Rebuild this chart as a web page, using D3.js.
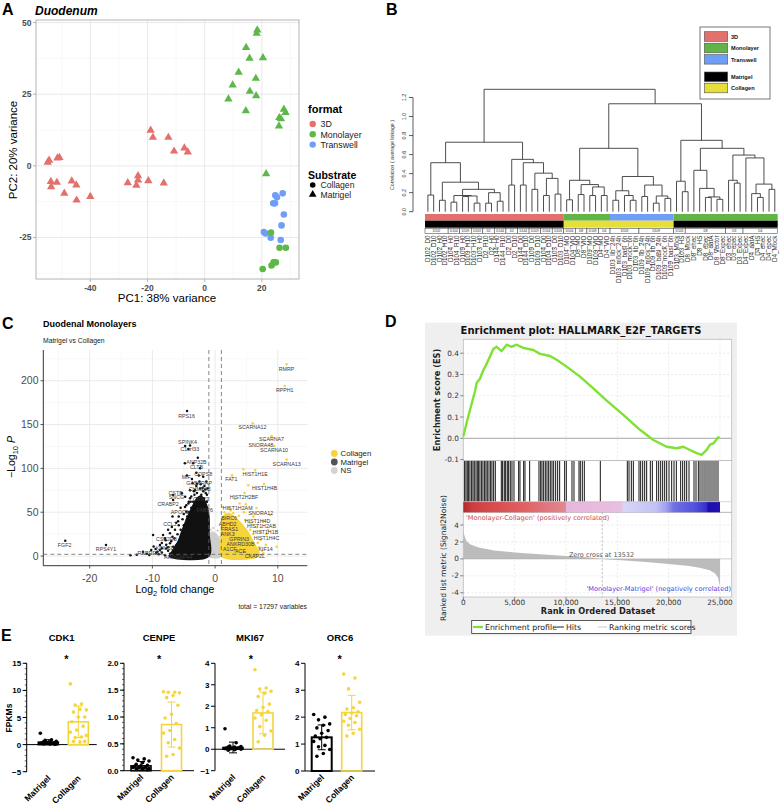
<!DOCTYPE html>
<html><head><meta charset="utf-8">
<script src="https://cdn.jsdelivr.net/npm/d3@7/dist/d3.min.js"></script>
<style>html,body{margin:0;padding:0;background:#fff}svg{display:block}</style>
</head><body>
<svg id="fig" width="781" height="805" xmlns="http://www.w3.org/2000/svg"></svg>
<script>
// ================= DATA =================
// ---- Panel A: PCA (PC1, PC2)
const pca3DMatrigel = [[-54.9,1.2],[-54.4,1.9],[-51.5,2.7],[-50.8,2.9],[-53.8,-5.5],[-53.7,-7.3],[-51.7,-5.8],[-49.1,-9.6],[-46.5,-5.3],[-44.9,-6.7],[-44.8,-12],[-40,-10.7],
  [-26.9,-5.9],[-23.9,-6.8],[-23.3,-5],[-23.3,-3.5],[-19.7,-5.2],[-14.3,-6],[-18.9,12.4],[-18.1,9.9],[-12.7,9.9],[-10.7,5.1],[-7.1,6.2],[-5.9,4.8]];
const pcaMonoMatrigel = [[18.4,47.4],[18.2,46.2],[14.5,41.3],[15.7,37.5],[20.4,37.7],[11.9,32.6],[17.9,30.5],[9.8,28.2],[15.8,26],[18,24.4],[8.3,23.3],[14.4,19.2],[27.7,19.7],[28.3,18.6],[26.1,16.8],[26.7,16.4],[26,13.9],[21.5,-2.8]];
const pcaTranswellCollagen = [[24.7,-10.3],[25.3,-11],[27.3,-9.6],[24,-13.1],[24.6,-13.1],[27.7,-17],[26.9,-20.8],[20.7,-23.1],[21.3,-23.6],[23.1,-25.1],[26.6,-25.9]];
const pcaMonoCollagen = [[23.2,-23.3],[26.2,-28.6],[28.4,-28.6],[24.1,-33.7],[24.9,-33.7],[23.4,-34.8],[20.3,-36]];
const pcaFormats = ["3D","Monolayer","Transwell"];
const pcaSubstrates = ["Collagen","Matrigel"];
const pcaXTicks = [-40,-20,0,20];
const pcaYTicks = [-25,0,25,50];
const pcaXMinor = [-50,-30,-10,10,30];
const pcaYMinor = [-37.5,-12.5,12.5,37.5];

// ---- Panel B: dendrogram (node = [height, left, right], leaf = index)
const dendroLeaves = ["D102_D0","D102_D10","D102_H0","D102_H10","D104_H0","D104_H10","D109_H0","D109_H10","D103_H10","D103_H0","D2_H10","D2_H0","D144_H0","D144_H10","D2_D0","D2_D10","D144_D0","D144_D10","D109_D0","D109_D10","D104_D0","D104_D10","D103_D0","D103_D10",
 "D104_MO","D104_VIO","D8_MO","D8_VIO","D109_MO","D109_VIO","D4_MO","D4_VIO",
 "D103_lib_24h","D103_mock_24h","D103_basl_6h","D103_mock_6h","D103_lib_6h","D109_lib_24h","D109_mock_24h","D109_lib_6h","D109_basl_24h","D109_mock_6h","D109_basl_6h",
 "D103_Mock","D103_HS","D8_Mock","D8_ehec","D8_HS","D8_epec","D8_aatA","D8_Vector","D8_Expec","D3_ehec","D3_epec","D3_Expec","D4_Expec","D4_aatA","D4_HS","D4_ehec","D4_epec","D4_Mock"];
const dendro3D = [0.73,
  [0.515,[0.175,0,1],[0.31,[0.12,2,3],[0.235,[0.17,[0.10,4,5],[0.165,[0.16,6,7],[0.09,8,9]]],[0.2,[0.09,10,11],[0.11,12,13]]]]],
  [0.55,[0.28,14,15],[0.515,[0.28,16,17],[0.405,[0.235,18,19],[0.35,[0.17,20,21],[0.185,22,23]]]]]];
const dendroMonoColl = [0.666,
  [0.33,[0.125,24,25],[0.285,[0.18,26,27],[0.26,[0.17,28,29],[0.17,30,31]]]],
  [0.37,[0.22,[0.12,32,33],[0.17,34,[0.12,35,36]]],[0.28,[0.16,37,38],[0.165,[0.09,39,40],[0.14,41,42]]]]];
const dendroMonoMat = [0.75,
  [0.32,43,[0.21,44,45]],
  [0.666,[0.435,46,[0.245,47,[0.155,[0.15,48,49],[0.13,50,51]]]],
         [0.595,[0.33,52,[0.30,53,54]],[0.565,55,[0.29,[0.19,56,[0.15,57,58]],[0.235,59,60]]]]]];
const dendroTree = [1.286, dendro3D, [1.134, dendroMonoColl, dendroMonoMat]];
const dendroFormatRuns = [["3D",0,23],["Monolayer",24,31],["Transwell",32,42],["Monolayer",43,60]];
const dendroSubstrateRuns = [["Matrigel",0,23],["Collagen",24,42],["Matrigel",43,60]];
const dendroDonorRuns = [["D102",0,3],["D104",4,5],["D109",6,7],["D103",8,9],["D2",10,11],["D144",12,13],["D2",14,15],["D144",16,17],["D109",18,19],["D104",20,21],["D103",22,23],
 ["D104",24,25],["D8",26,27],["D109",28,29],["D4",30,31],["D103",32,36],["D109",37,42],["D103",43,44],["D8",45,51],["D3",52,54],["D4",55,60]];
const dendroYTicks = [0,0.2,0.4,0.6,0.8,1.0,1.2];
const dendroLegend = ["3D","Monolayer","Transwell","Matrigel","Collagen"];

// ---- Panel C: volcano (log2FC, -log10 P)
const volcMatrigelPts = [[-4.47,165.5],[-4.78,125.6],[-4.0,126],[-4.26,122],[-4.83,105.7],[-2.76,112],[-3.5,105.8],[-2.4,100],[-1.9,90.5],[-4.5,92],[-3.7,88],[-2.9,82.5],[-2.4,77],[-3.2,75],[-5.3,71.5],[-4.78,67.6],[-4.0,65.8],[-4.26,60],[-6.7,69.5],[-6.7,64],[-2.9,54.2],[-2.1,52.3],[-4.6,50.5],[-5.9,39.6],[-4.45,45],[-9.9,24],[-8.3,24],[-8.0,20.2],[-7.2,14.5],[-8.8,12.5],[-6.7,10.6],[-7.8,8.7],[-10.2,6.8],[-11.5,4.9],[-9.4,3.8],[-5.7,16.4],[-23.9,17.5],[-17.4,12.5],[-10.9,2.7],[-12.5,1.5],
 [-5.5,30],[-6,25],[-5,35],[-4.5,42],[-6.5,20],[-7,17],[-5.8,45],[-3.8,55],[-3.5,62],[-2.8,66],[-2.2,70],[-1.8,66],[-1.5,72],[-3,80],[-2.5,85],[-4.2,50],[-5.2,25],[-6.2,12],[-7.5,6],[-8.5,4],[-9,2],[-6,3],[-5.5,8],[-3,95],[-3.3,70],[-1.3,62],[-1.2,48],[-1.6,76],[-2.0,60],[-3.9,36],[-4.8,22],[-5.6,14],[-6.6,7],[-7.2,2.5],[-8,1],[-13.5,0.8],[-9.5,8],[-8.5,15],[-7.5,30],[-6.8,45],[-5.5,55],[-2.6,92],[-4.0,75],[-1.1,40],[-1.4,85],[-3.6,45],
 [-7.5,10],[-7.8,13],[-6.8,22],[-7.2,26],[-8.5,9],[-9.2,5],[-6.4,30],[-5.8,35],[-5,48],[-4.8,56],[-4.2,62],[-3.8,68],[-3.4,74],[-2.9,72],[-2.0,78],[-1.7,80],[-1.3,70],[-6.2,38],[-5.2,42],[-7.9,18],[-6.9,33],[-8.8,7],[-10.5,1.2],[-9.8,11],[-4.6,58],[-3.9,62],[-2.3,82],[-1.9,74],[-1.2,77],[-3.6,83]];
const volcCollagenPts = [[11.39,218.8],[11.1,194],[6.0,151.5],[9.0,137],[7.9,132],[9.4,125.6],[11.4,110],[4.5,99],[6.4,98],[2.7,92],[5.3,80.7],[7.8,82],[4.7,72],[3.9,60],[4.9,59],[6.6,54.8],[8.8,46.8],[6.1,45],[1.8,46.8],[2.9,49],[7.65,39.5],[6.6,33],[8.45,29.7],[8.2,25.1],[6.1,25.1],[7.2,18.3],[8.1,12.6],[9.8,10.6],[6.1,6.8],[6.9,4.2],[5.3,8.7],[3.9,12.6],[2.9,25.9],[1.8,37.3],[5.6,30],[4.2,35],[3.4,42],[5,20],[7,10],[4.6,50],[2.2,55],[1.5,50],[6.8,2],[7.5,6],[5.5,38],[3.2,65],[7.3,28],[1.2,56],[2.5,52],[3.8,46],[6.8,15],[7.7,3],[5.9,36],[4.8,41]];
const volcMatrigelCloud = [[-7.2,0.3],[-6.8,5],[-6.3,11],[-5.8,17],[-5.3,27],[-4.7,38],[-4.1,48],[-3.5,57],[-2.9,65],[-2.3,68],[-1.8,64],[-1.35,56],[-1.05,44],[-1.05,25],[-1.05,0.3]];
const volcCollagenCloud = [[1.05,0.3],[1.05,20],[1.1,35],[1.35,45],[2.1,48],[2.9,45],[3.7,40],[4.4,34],[5.1,28],[5.8,19],[6.4,11],[6.8,5],[6.9,0.3]];
const volcNSCloud = [[-1,0],[-1,12],[-0.85,22],[-0.45,27],[0.2,24],[0.7,18],[1,10],[1,0]];
const volcNSPts = [[-0.7,30],[-0.3,32],[0.4,29],[0.8,22],[-0.9,26],[0.1,20]];
const volcLabels = [["RMRP",11.4,213.8],["RPPH1",11.1,189],["RPS16",-4.56,160],["SCARNA12",5.96,147],["SCARNA7",9.0,134],["SNORA48",7.3,127],["SCARNA10",9.4,120.5],["SCARNA13",11.4,105.4],["HIST1H1E",6.38,94],["FAT1",2.6,87.6],["HIST1H4B",7.9,78],["HIST2H2BF",4.6,67.7],["HIST1H2AM",3.6,55],["SNORA12",7.3,49.5],["HIST1H4D",6.76,40],["HIST1H2AB",7.4,34.2],["HIST1H1B",8.04,27.4],["HIST1H4C",8.2,20.5],["KIF14",8.04,8],["GPRIN3",3.83,19.4],["ANKRD30B",4.05,14],["ACE",4.05,5.4],["CKAP2L",6.33,-0.3],["A1CF",2.34,7.6],["BIRC6",2.23,43],["ABHD2",2.0,36.5],["FRAS1",2.3,31],["ANK3",2.0,25.5],
 ["SPINK4",-4.4,130.5],["C1orf33",-4.03,122.5],["ANP32B",-2.97,107.3],["CLTB",-2.97,101.6],["COPS8",-1.91,94],["MIF",-4.6,90],["GABARAP",-2.55,83.7],["CHMP4B",-2.44,76.8],["CSTB",-6.3,72],["SNCG",-6.16,67],["CRIP2",-2.28,65],["CRABP2",-7.5,59.7],["APOC3",-5.63,50.2],["FABP6",-1.64,52.5],["CCL2",-7.2,36.5],["CSF2RB",-7.75,19.4],["KDM5D",-8.0,9.1],["RARRES2",-10.4,3.8],["ARHGAP44",-5.9,-0.8],["FGF2",-24,12.6],["RPS4Y1",-17.4,8]];
const volcXTicks = [-20,-10,0,10];
const volcYTicks = [0,50,100,150,200];
const volcXMinor = [-25,-15,-5,5];
const volcYMinor = [25,75,125,175,225];
const volcLegend = ["Collagen","Matrigel","NS"];

// ---- Panel D: GSEA
const esRank = [0,162,390,650,909,1136,1299,1623,1948,2273,2597,2922,3247,3734,4221,4708,5195,5844,6818,7468,8442,9091,10065,11364,12663,13961,15584,17208,18507,19805,20779,21429,22078,22727,23214,23701,24026,24351,24838,24935];
const esScore = [0.008,0.04,0.086,0.133,0.18,0.22,0.26,0.28,0.32,0.35,0.385,0.42,0.43,0.41,0.44,0.43,0.44,0.425,0.415,0.397,0.387,0.369,0.337,0.29,0.235,0.177,0.11,0.04,-0.008,-0.04,-0.047,-0.04,-0.055,-0.07,-0.078,-0.055,-0.03,-0.024,0.005,0.0];
const gseaHits = [130,260,390,520,650,812,942,1072,1234,1364,1494,1623,1786,1916,2078,2208,2338,2500,2662,2792,2955,3117,
 3702,3831,3994,4124,4286,4416,4578,4741,4935,5390,5520,5877,6007,6462,
 7371,7533,7663,7825,7988,8150,8312,8475,8637,8799,8994,9189,9384,9871,10033,10585,10780,11267,11397,11592,11787,13345,
 15975,16138,16365,16560,17112,17274,17468,17663,17858,18215,18410,18832,19027,19222,19417,19612,19807,20034,20294,20521,20748,
 21170,21365,21560,21755,21982,22469,22664,22891,23054,23249,23444,23638,23833,24028,24222,24417,24612,24807];
const rankPos = [0,100,300,700,1500,3000,5000,7500,10000,12000,13532,15000,17500,20000,22000,23000,24000,24500,24800,24950,25000,25000];
const rankVal = [3.5,2.8,2.1,1.7,1.35,1.0,0.75,0.55,0.35,0.18,0,-0.12,-0.33,-0.6,-0.85,-1.05,-1.35,-1.7,-2.2,-3.0,-3.1,0];
const gseaBarStops = [[0,"#b0282c"],[0.04,"#cf3f42"],[0.12,"#d84c4e"],[0.25,"#e06466"],[0.33,"#e07880"],[0.398,"#e2888f"],[0.402,"#e7b6dc"],[0.618,"#e9bfe1"],[0.622,"#d8d6f7"],[0.75,"#c2c2f4"],[0.79,"#a0a0ef"],[0.82,"#7070e6"],[0.9,"#5252dd"],[0.945,"#3a30cc"],[0.955,"#1e0eb2"],[1,"#2410ae"]];
const esYTicks = [-0.1,0,0.1,0.2,0.3,0.4];
const rankYTicks = [-4,-2,0,2,4];
const rankXTicks = [0,5000,10000,15000,20000,25000];
const zeroCross = 13532;

// ---- Panel E: FPKM bar plots
const eGenes = ["CDK1","CENPE","MKI67","ORC6"];
const eGroups = ["Matrigel","Collagen"];
const eMatrigelVals = [
 [2.1,0.9,0.8,0.6,0.5,0.5,0.4,0.4,0.3,0.3,0.3,0.2,0.2,0.2,0.1,0.1,0.1,0.05],
 [0.24,0.22,0.2,0.18,0.15,0.12,0.1,0.09,0.08,0.07,0.06,0.06,0.05,0.05,0.04,0.04,0.03,0.02],
 [0.95,0.3,0.15,0.12,0.1,0.1,0.08,0.06,0.05,0.05,0.04,0.03,0.02,0.01,0,-0.02,-0.05],
 [2.1,2.0,1.9,1.75,1.7,1.6,1.5,1.4,1.3,1.25,1.2,1.1,0.95,0.9,0.8,0.65,0.55]];
const eCollagenVals = [
 [11.2,7.5,7.3,6.4,6.5,6.0,5.1,5.1,4.2,3.4,2.7,2.3,1.4,1.3,1.7,0.5,0.6,0.6],
 [1.47,1.46,1.46,1.45,1.40,1.36,1.22,1.05,0.98,0.88,0.75,0.7,0.58,0.52,0.42,0.3,0.27],
 [3.7,2.85,2.8,2.7,2.6,2.45,2.1,1.95,1.8,1.75,1.6,1.45,1.35,1.05,0.85,0.65,0.35],
 [3.6,3.45,3.05,2.55,2.35,2.3,2.2,2.15,2.1,2.05,1.95,1.85,1.8,1.7,1.55,1.4,1.3]];
const eMatrigelMean = [0.45,0.09,0.08,1.25];
const eMatrigelSD = [0.45,0.08,0.25,0.46];
const eCollagenMean = [4.2,0.86,1.69,2.17];
const eCollagenSD = [2.9,0.42,0.97,0.64];
const eYDomains = [[-5,15],[0,2],[-1,4],[0,4]];
const eYTicks = [[-5,0,5,10,15],[0,0.5,1,1.5,2],[-1,0,1,2,3,4],[0,1,2,3,4]];
const eTickFormats = ["d",".1f","d","d"];

// ================= DRAWING =================
const svg = d3.select("#fig");
const SANS = "'Liberation Sans', Arial, Helvetica, sans-serif";
const DJ = "'DejaVu Sans', Verdana, sans-serif";
const C3D = "#e2706b", CMONO = "#5db848", CTRANS = "#6f9ef6";
const YEL = "#f6d43c";

function txt(g, x, y, s, o = {}) {
  const t = g.append("text").attr("x", x).attr("y", y).text(s)
    .attr("font-family", o.ff || SANS).attr("font-size", o.fs || 10)
    .attr("fill", o.fill || "#000");
  if (o.fw) t.attr("font-weight", o.fw);
  if (o.fst) t.attr("font-style", o.fst);
  if (o.anchor) t.attr("text-anchor", o.anchor);
  if (o.rot !== undefined) t.attr("transform", `rotate(${o.rot},${x},${y})`);
  return t;
}
function ln(g, x1, y1, x2, y2, stroke, w = 1, dash) {
  const l = g.append("line").attr("x1", x1).attr("y1", y1).attr("x2", x2).attr("y2", y2)
    .attr("stroke", stroke).attr("stroke-width", w);
  if (dash) l.attr("stroke-dasharray", dash);
  return l;
}

// panel letters
[["A",2,15],["B",386,15],["C",2,329],["D",385,327],["E",1,641]].forEach(([l,x,y]) =>
  txt(svg, x, y, l, {fs: 16, fw: "bold"}));

// ---------- Panel A ----------
(function(){
  const g = svg.append("g");
  const x = d3.scaleLinear().domain([-59,33]).range([36,299]);
  const y = d3.scaleLinear().domain([-39.5,50.9]).range([279,20]);
  txt(g, 35, 15, "Duodenum", {fs: 12, fw: "bold", fst: "italic"});
  pcaXMinor.forEach(v => ln(g, x(v), 20, x(v), 279, "#f3f3f3", 0.6));
  pcaYMinor.forEach(v => ln(g, 36, y(v), 299, y(v), "#f3f3f3", 0.6));
  pcaXTicks.forEach(v => ln(g, x(v), 20, x(v), 279, "#e6e6e6", 0.9));
  pcaYTicks.forEach(v => ln(g, 36, y(v), 299, y(v), "#e6e6e6", 0.9));
  g.append("rect").attr("x",36).attr("y",20).attr("width",263).attr("height",259)
    .attr("fill","none").attr("stroke","#b3b3b3").attr("stroke-width",1);
  pcaXTicks.forEach(v => { ln(g, x(v), 279, x(v), 282, "#b3b3b3", 1);
    txt(g, x(v), 291, v, {fs: 8.5, fw: "bold", fill: "#4d4d4d", anchor: "middle"}); });
  pcaYTicks.forEach(v => { ln(g, 33, y(v), 36, y(v), "#b3b3b3", 1);
    txt(g, 31.5, y(v)+3, v, {fs: 8.5, fw: "bold", fill: "#4d4d4d", anchor: "end"}); });
  txt(g, 167, 302, "PC1: 38% variance", {fs: 11.5, anchor: "middle"});
  txt(g, 17, 150, "PC2: 20% variance", {fs: 11.5, anchor: "middle", rot: -90});
  const tri = d3.symbol().type(d3.symbolTriangle).size(30);
  const drawTri = (arr, col) => g.selectAll(null).data(arr).enter().append("path")
    .attr("d", tri).attr("transform", d => `translate(${x(d[0])},${y(d[1])})`).attr("fill", col);
  const drawCirc = (arr, col) => g.selectAll(null).data(arr).enter().append("circle")
    .attr("cx", d => x(d[0])).attr("cy", d => y(d[1])).attr("r", 3.3).attr("fill", col);
  drawTri(pca3DMatrigel, C3D);
  drawTri(pcaMonoMatrigel, CMONO);
  drawCirc(pcaTranswellCollagen, CTRANS);
  drawCirc(pcaMonoCollagen, CMONO);
  txt(g, 308, 113, "format", {fs: 11, fw: "bold"});
  const fcols = [C3D, CMONO, CTRANS];
  pcaFormats.forEach((f,i) => {
    g.append("circle").attr("cx",312.7).attr("cy",124+i*10.3).attr("r",3.2).attr("fill",fcols[i]);
    txt(g, 320.5, 127.3+i*10.3, f, {fs: 8.8, fill: "#222"});
  });
  txt(g, 308, 178.5, "Substrate", {fs: 10.5, fw: "bold"});
  g.append("circle").attr("cx",312.7).attr("cy",185).attr("r",2.8).attr("fill","#000");
  g.append("path").attr("d", d3.symbol().type(d3.symbolTriangle).size(26)).attr("transform","translate(312.7,194.4)").attr("fill","#000");
  pcaSubstrates.forEach((s,i) => txt(g, 320.5, 188.2+i*9.6, s, {fs: 8.6, fill: "#222"}));
})();

// ---------- Panel B ----------
(function(){
  const g = svg.append("g");
  const y = d3.scaleLinear().domain([0,1.2]).range([211.7,97.5]);
  const n = dendroLeaves.length;
  const x0 = 425, x1 = 777.7, step = (x1-x0)/n;
  const lx = i => x0 + (i+0.5)*step;
  const fmtCol = {"3D": C3D, "Monolayer": "#62b446", "Transwell": CTRANS, "Matrigel": "#000", "Collagen": "#e6df3a"};
  ln(g, 413, y(0), 413, y(1.2), "#333", 0.8);
  dendroYTicks.forEach(v => { ln(g, 409, y(v), 413, y(v), "#333", 0.8);
    txt(g, 406, y(v), v.toFixed(1), {fs: 5.5, anchor: "middle", rot: -90, fill: "#333"}); });
  txt(g, 394, 155, "Correlation ( average linkage )", {fs: 5.2, anchor: "middle", rot: -90, fill: "#333"});
  const lines = g.append("g").attr("stroke", "#3a3a3a").attr("stroke-width", 0.9).attr("fill","none");
  function lay(node) {
    if (typeof node === "number") return {x: lx(node), h: 0};
    const l = lay(node[1]), r = lay(node[2]), h = node[0];
    lines.append("path").attr("d", `M${l.x},${y(l.h)}V${y(h)}H${r.x}V${y(r.h)}`);
    return {x: (l.x + r.x)/2, h};
  }
  lay(dendroTree);
  dendroFormatRuns.forEach(([k,a,b]) => g.append("rect").attr("x", x0 + a*step).attr("y", 214)
    .attr("width", (b-a+1)*step).attr("height", 6.7).attr("fill", fmtCol[k]));
  dendroSubstrateRuns.forEach(([k,a,b]) => g.append("rect").attr("x", x0 + a*step).attr("y", 220.7)
    .attr("width", (b-a+1)*step).attr("height", 7).attr("fill", fmtCol[k]));
  dendroDonorRuns.forEach(([k,a,b]) => {
    g.append("rect").attr("x", x0 + a*step).attr("y", 228.7).attr("width", (b-a+1)*step).attr("height", 4.8)
      .attr("fill","#fff").attr("stroke","#333").attr("stroke-width",0.5);
    txt(g, x0 + (a+b+1)/2*step, 232.4, k, {fs: 3.2, anchor: "middle", fill: "#222"});
  });
  dendroLeaves.forEach((s,i) => txt(g, lx(i)+2.1, 235.5, s, {fs: 6.3, anchor: "end", rot: -90, fill: "#333"}));
  g.append("rect").attr("x",700).attr("y",27).attr("width",70).attr("height",72)
    .attr("fill","#fff").attr("stroke","#777").attr("stroke-width",1);
  const ly = [31.7,43.2,54.5,72,83.2];
  dendroLegend.forEach((k,i) => {
    g.append("rect").attr("x",704.3).attr("y",ly[i]).attr("width",23.4).attr("height",9.6)
      .attr("fill", fmtCol[k]).attr("stroke","#555").attr("stroke-width",0.6);
    txt(g, 731, ly[i]+7, k, {fs: 5.6, fw: "bold", fill: "#111"});
  });
})();

// ---------- Panel C ----------
(function(){
  const g = svg.append("g");
  const x = d3.scaleLinear().domain([-27.4,14.7]).range([43.3,307.3]);
  const y = d3.scaleLinear().domain([-11,235]).range([565.7,350]);
  txt(g, 43, 327, "Duodenal Monolayers", {fs: 9, fw: "bold"});
  txt(g, 43, 342.5, "Matrigel vs Collagen", {fs: 6.8, fill: "#222"});
  volcXMinor.forEach(v => ln(g, x(v), 350, x(v), 565.7, "#f4f4f4", 0.6));
  volcYMinor.forEach(v => ln(g, 43.3, y(v), 307.3, y(v), "#f4f4f4", 0.6));
  volcXTicks.forEach(v => ln(g, x(v), 350, x(v), 565.7, "#e8e8e8", 0.9));
  volcYTicks.forEach(v => ln(g, 43.3, y(v), 307.3, y(v), "#e8e8e8", 0.9));
  ln(g, 43.3, 350, 43.3, 565.7, "#000", 0.8);
  ln(g, 43.3, 565.7, 307.3, 565.7, "#000", 0.8);
  volcXTicks.forEach(v => { ln(g, x(v), 565.7, x(v), 568.5, "#333", 0.8);
    txt(g, x(v), 581.5, v, {fs: 10.5, fill: "#4d4d4d", anchor: "middle"}); });
  volcYTicks.forEach(v => { ln(g, 40.5, y(v), 43.3, y(v), "#333", 0.8);
    txt(g, 38.5, y(v)+3.8, v, {fs: 10.5, fill: "#4d4d4d", anchor: "end"}); });
  const xt = g.append("text").attr("x", 175).attr("y", 593).attr("text-anchor","middle")
    .attr("font-family", SANS).attr("font-size", 10.5);
  xt.append("tspan").text("Log");
  xt.append("tspan").text("2").attr("font-size", 7.5).attr("dy", 3);
  xt.append("tspan").text(" fold change").attr("dy", -3);
  const yt = g.append("text").attr("transform","translate(15,457) rotate(-90)").attr("text-anchor","middle")
    .attr("font-family", SANS).attr("font-size", 10.5);
  yt.append("tspan").text("\u2212Log");
  yt.append("tspan").text("10").attr("font-size", 7.5).attr("dy", 3);
  yt.append("tspan").text(" ").attr("dy", -3);
  yt.append("tspan").text("P").attr("font-style","italic");
  txt(g, 307, 609, "total = 17297 variables", {fs: 6.8, anchor: "end", fill: "#222"});
  const line = d3.line().x(d => x(d[0])).y(d => y(d[1])).curve(d3.curveCatmullRomClosed);
  g.append("path").attr("d", line(volcNSCloud)).attr("fill","#cfcfcf").attr("stroke","#cfcfcf").attr("stroke-width",2);
  g.selectAll(null).data(volcNSPts).enter().append("circle").attr("cx",d=>x(d[0])).attr("cy",d=>y(d[1])).attr("r",1.1).attr("fill","#c8c8c8");
  g.append("path").attr("d", line(volcCollagenCloud)).attr("fill",YEL).attr("stroke",YEL).attr("stroke-width",2.4).attr("stroke-linejoin","round");
  g.append("path").attr("d", line(volcMatrigelCloud)).attr("fill","#111").attr("stroke","#111").attr("stroke-width",2.4).attr("stroke-linejoin","round");
  g.selectAll(null).data(volcMatrigelPts).enter().append("circle").attr("cx",d=>x(d[0])).attr("cy",d=>y(d[1])).attr("r",1.25).attr("fill","#111");
  g.selectAll(null).data(volcCollagenPts).enter().append("circle").attr("cx",d=>x(d[0])).attr("cy",d=>y(d[1])).attr("r",1.3).attr("fill",YEL);
  ln(g, x(-1), 350, x(-1), 565.7, "#666", 0.8, "4,3");
  ln(g, x(1), 350, x(1), 565.7, "#666", 0.8, "4,3");
  ln(g, 43.3, y(2), 307.3, y(2), "#666", 0.8, "4,3");
  volcLabels.forEach(([s,a,b]) => txt(g, x(a), y(b)+2, s, {fs: 5.3, anchor: "middle", fill: "#3a3a3a"}));
  const lc = [YEL, "#555", "#d4d4d4"];
  volcLegend.forEach((s,i) => {
    g.append("circle").attr("cx",334.3).attr("cy",453.5+i*8.5).attr("r",3.4).attr("fill",lc[i]);
    txt(g, 340.5, 456.3+i*8.5, s, {fs: 7.8, fill: "#222"});
  });
})();

// ---------- Panel D ----------
(function(){
  const g = svg.append("g");
  g.append("rect").attr("x",425).attr("y",322.7).attr("width",312).attr("height",313).attr("fill","#efefef");
  txt(g, 581, 333.5, "Enrichment plot: HALLMARK_E2F_TARGETS", {ff: DJ, fs: 10, fw: "bold", anchor: "middle", fill: "#111"});
  const X0 = 463.3, X1 = 731.7;
  const x = d3.scaleLinear().domain([0,26140]).range([X0, X1]);
  const yE = d3.scaleLinear().domain([-0.1045,0.4655]).range([460.5,339.3]);
  const yR = d3.scaleLinear().domain([-4.5,5.5]).range([597,512.3]);
  g.append("rect").attr("x",X0).attr("y",339.3).attr("width",X1-X0).attr("height",257.7).attr("fill","#fff");
  rankXTicks.slice(1).forEach(v => { ln(g, x(v), 339.3, x(v), 460.5, "#dcdcdc", 0.6, "2,2");
    ln(g, x(v), 512.3, x(v), 597, "#dcdcdc", 0.6, "2,2"); });
  esYTicks.forEach(v => { if (v !== 0 && v > -0.1) ln(g, X0, yE(v), X1, yE(v), "#dcdcdc", 0.6, "2,2"); });
  rankYTicks.forEach(v => { if (v !== 0) ln(g, X0, yR(v), X1, yR(v), "#dcdcdc", 0.6, "2,2"); });
  ln(g, X0, yE(0), X1, yE(0), "#9a9a9a", 0.9);
  [[339.3,460.5],[460.5,512.3],[512.3,597]].forEach(([a,b]) => g.append("rect").attr("x",X0).attr("y",a)
    .attr("width",X1-X0).attr("height",b-a).attr("fill","none").attr("stroke","#bdbdbd").attr("stroke-width",0.8));
  gseaHits.forEach(r => ln(g, x(r), 461, x(r), 501.5, "#151515", 1));
  const grad = svg.append("defs").append("linearGradient").attr("id","gseaGrad");
  gseaBarStops.forEach(([o,c]) => grad.append("stop").attr("offset", o).attr("stop-color", c));
  g.append("rect").attr("x",X0).attr("y",501.7).attr("width",x(25000)-X0).attr("height",10.6).attr("fill","url(#gseaGrad)");
  ln(g, X0, 501.7, X1, 501.7, "#bdbdbd", 0.6);
  txt(g, 466, 519.5, "'Monolayer-Collagen' (positively correlated)", {ff: DJ, fs: 6.6, fill: "#d04848"});
  const area = d3.area().x((d,i) => x(rankPos[i])).y0(yR(0)).y1((d,i) => yR(rankVal[i]));
  g.append("path").attr("d", area(rankVal)).attr("fill","#bcbcbc");
  ln(g, X0, yR(0), X1, yR(0), "#aaa", 0.6);
  ln(g, x(zeroCross), 512.3, x(zeroCross), 597, "#999", 0.7, "2,2");
  txt(g, 601.5, 557, "Zero cross at 13532", {ff: DJ, fs: 6.5, anchor: "middle", fill: "#555"});
  txt(g, 731, 591, "'Monolayer-Matrigel' (negatively correlated)", {ff: DJ, fs: 6.6, anchor: "end", fill: "#4646e0"});
  const esLine = d3.line().x((d,i) => x(esRank[i])).y((d,i) => yE(esScore[i]));
  g.append("path").attr("d", esLine(esScore)).attr("fill","none").attr("stroke","#7fe233").attr("stroke-width",2.4).attr("stroke-linejoin","round");
  esYTicks.forEach(v => { ln(g, X0-3, yE(v), X0, yE(v), "#555", 0.7);
    txt(g, X0-4.5, yE(v)+2.6, v.toFixed(1), {ff: DJ, fs: 7.3, anchor: "end", fill: "#333"}); });
  rankYTicks.forEach(v => { ln(g, X0-3, yR(v), X0, yR(v), "#555", 0.7);
    txt(g, X0-4.5, yR(v)+2.6, v, {ff: DJ, fs: 7.3, anchor: "end", fill: "#333"}); });
  rankXTicks.forEach(v => { ln(g, x(v), 597, x(v), 600, "#555", 0.7);
    txt(g, x(v), 605, d3.format(",")(v), {ff: DJ, fs: 7.3, anchor: "middle", fill: "#333"}); });
  txt(g, 598, 614, "Rank in Ordered Dataset", {ff: DJ, fs: 8.2, fw: "bold", anchor: "middle", fill: "#222"});
  txt(g, 440, 400, "Enrichment score (ES)", {ff: DJ, fs: 8.2, fw: "bold", anchor: "middle", rot: -90, fill: "#222"});
  txt(g, 445.5, 558, "Ranked list metric (Signal2Noise)", {ff: DJ, fs: 7.6, anchor: "middle", rot: -90, fill: "#222"});
  g.append("rect").attr("x",471.7).attr("y",620.5).attr("width",219.3).attr("height",13).attr("fill","#fff").attr("stroke","#333").attr("stroke-width",0.8);
  ln(g, 473, 627, 483, 627, "#7fe233", 2.2);
  txt(g, 485, 629.8, "Enrichment profile", {ff: DJ, fs: 7.8, fill: "#222"});
  ln(g, 557, 627, 564, 627, "#222", 1);
  txt(g, 566, 629.8, "Hits", {ff: DJ, fs: 7.8, fill: "#222"});
  ln(g, 598, 627, 607, 627, "#ccc", 1);
  txt(g, 609, 629.8, "Ranking metric scores", {ff: DJ, fs: 7.8, fill: "#222"});
})();

// ---------- Panel E ----------
(function(){
  const g = svg.append("g");
  const axisX = [26.7, 124, 215, 305];
  const bottoms = [771.7, 770.7, 770.7, 771];
  const barOff = [[21.6,51.6],[17,47.5],[18,48],[16.7,46.7]];
  txt(g, 12, 718, "FPKMs", {fs: 8.5, fw: "bold", anchor: "middle", rot: -90});
  eGenes.forEach((gene, k) => {
    const ax = axisX[k];
    const y = d3.scaleLinear().domain(eYDomains[k]).range([bottoms[k], 663.3]);
    const fmt = d3.format(eTickFormats[k]);
    ln(g, ax, y(eYDomains[k][1]), ax, y(eYDomains[k][0]), "#000", 1);
    eYTicks[k].forEach(v => { ln(g, ax-4, y(v), ax, y(v), "#000", 1);
      txt(g, ax-5.5, y(v)+3, fmt(v), {fs: 8, fw: "bold", anchor: "end"}); });
    if (k < 2) {
      const st = k === 0 ? 1 : 0.1;
      d3.range(eYDomains[k][0], eYDomains[k][1] + st/2, st).forEach(v => ln(g, ax-2, y(v), ax, y(v), "#000", 0.6));
    }
    ln(g, ax, y(0), ax+70, y(0), "#000", 1);
    const bx = [ax + barOff[k][0], ax + barOff[k][1]];
    const means = [eMatrigelMean[k], eCollagenMean[k]];
    const sds = [eMatrigelSD[k], eCollagenSD[k]];
    const vals = [eMatrigelVals[k], eCollagenVals[k]];
    const cols = ["#000", YEL];
    [0,1].forEach(j => {
      g.append("rect").attr("x", bx[j]-10).attr("y", y(Math.max(0,means[j])))
        .attr("width", 20).attr("height", Math.abs(y(means[j]) - y(0)))
        .attr("fill","none").attr("stroke", cols[j]).attr("stroke-width", j === 0 && k === 3 ? 2 : 1.6);
      g.selectAll(null).data(vals[j]).enter().append("circle")
        .attr("cx", (d,i) => bx[j] + (((i*7) % 11) - 5) * 1.6)
        .attr("cy", d => y(d)).attr("r", 1.8).attr("fill", cols[j]);
      const top = y(means[j] + sds[j]), bot = y(means[j] - sds[j]);
      ln(g, bx[j], top, bx[j], bot, cols[j], 1);
      ln(g, bx[j]-4, top, bx[j]+4, top, cols[j], 1);
      ln(g, bx[j]-4, bot, bx[j]+4, bot, cols[j], 1);
      txt(g, bx[j]+3, bottoms[k]+7, eGroups[j], {fs: 8.6, fw: "bold", anchor: "end", rot: -45});
    });
    txt(g, (bx[0]+bx[1])/2 + 3, 663, "*", {fs: 11, fw: "bold", anchor: "middle"});
    txt(g, ax + 35, 641, gene, {fs: 9.5, fw: "bold", anchor: "middle"});
  });
})();
</script>
</body></html>
